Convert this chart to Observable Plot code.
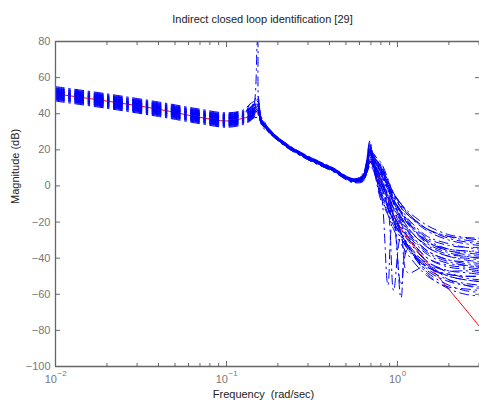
<!DOCTYPE html>
<html><head><meta charset="utf-8">
<script src="https://cdn.jsdelivr.net/npm/d3@7"></script>
<script src="https://cdn.jsdelivr.net/npm/@observablehq/plot@0.6"></script>
<style>
body{margin:0;background:#fff}
svg{display:block}
text{white-space:pre}
</style>
</head><body><div id="chart"></div>
<script>
// ---- data ----
const freq = [0.01, 0.02, 0.04, 0.07, 0.1, 0.125, 0.14, 0.152, 0.16, 0.18, 0.22, 0.3, 0.42, 0.55, 0.63, 0.69, 0.72, 0.8, 0.88, 0.95, 1.05, 1.15, 1.5, 2.0, 2.5, 3.05];
const trueMag = [51, 47, 42.5, 38, 36, 37.5, 39, 41, 35.5, 30, 23, 15.5, 9, 3.5, 5, 14, 12, 2, -7, -16, -23.5, -29, -43, -57.3, -68.3, -78.4];
const est01 = [54, 50, 45.5, 41.5, 39.5, 41, 43, 48, 37, 31, 23.5, 16.5, 10, 4, 6, 22, 16, 12, 2, -4, -10, -15, -24, -28, -29, -30];
const est02 = [48, 44, 39.5, 35.5, 33.5, 35, 38, 80, 34, 29, 22.5, 15, 8.5, 2.5, 4, 15, 12, 2, -6, -12, -20, -26, -37, -42, -44, -45];
const est03 = [52.5, 48.5, 44, 40, 38, 39.5, 42, 45, 36.5, 30.5, 23.5, 16, 9.5, 3.5, 7, 25, 18, 13, 4, -5, -12, -18, -28, -32, -34, -35];
const est04 = [49.5, 45.5, 41, 37, 35, 36.5, 38.5, 42, 35.5, 29.5, 22.5, 15, 8.5, 2.5, 3, 14, 12, -4, -12, -20, -27, -33, -45, -49, -50, -50];
const est05 = [53.5, 49.5, 45, 41, 39, 40.5, 44, 46, 37, 30.5, 23.5, 16, 9.5, 3.5, 5, 19, 15, 8, 0, -8, -15, -21, -31, -36, -37, -38];
const est06 = [48.5, 44.5, 40, 36, 34, 35.5, 37.5, 41, 35, 29.5, 22.5, 15, 8.5, 2.5, 4.5, 17, 13, 0, -12, -58, -28, -34, -46, -52, -54, -55];
const est07 = [51.5, 47.5, 43, 39, 37, 38.5, 40.5, 44, 36, 30, 23, 15.5, 9, 3, 5.5, 20, 15, 9, 0, -9, -17, -23, -34, -39, -41, -42];
const est08 = [50.5, 46.5, 42, 38, 36, 37.5, 39.5, 43, 35.5, 30, 23, 15.5, 9, 3, 4.5, 16, 13, 3, -6, -14, -22, -28, -40, -45, -46, -47];
const est09 = [55, 51, 46.5, 42.5, 40.5, 42, 46, 47, 37.5, 31, 24, 16.5, 10, 4, 6, 21, 17, 11, 3, -4, -11, -16, -25, -30, -32, -33];
const est10 = [47, 43, 38.5, 34.5, 32.5, 34, 36.5, 40, 34.5, 29, 22, 14.5, 8, 2, 2.5, 13, 10, -8, -16, -24, -32, -38, -50, -56, -57, -58];
const est11 = [52, 48, 43.5, 39.5, 37.5, 39, 41, 45, 36, 30, 23, 15.5, 9, 3, 4, 12, 18, 10, 1, -7, -15, -21, -32, -37, -39, -40];
const est12 = [50, 46, 41.5, 37.5, 35.5, 37, 39, 42, 35.5, 30, 23, 15.5, 9, 3, 6.5, 23, 16, 10, 0, -10, -18, -25, -36, -41, -43, -44];
const est13 = [53, 49, 44.5, 40.5, 38.5, 40, 44, 50, 37, 30.5, 23.5, 16, 9.5, 3.5, 4, 15, 12, 0, -9, -16, -62, -30, -42, -48, -51, -52];
const est14 = [49, 45, 40.5, 36.5, 34.5, 36, 38, 41, 35, 29.5, 22.5, 15, 8.5, 2.5, 5, 19, 14, 6, -1, -8, -15, -20, -30, -35, -36, -36];
const est15 = [54.5, 50.5, 46, 42, 40, 41.5, 43.5, 46, 37, 31, 24, 16, 9.5, 3.5, 3.5, 12, 11, -6, -13, -20, -27, -33, -43, -47, -47, -48];
const est16 = [47.5, 43.5, 39, 35, 33, 34.5, 37, 40, 34.5, 29, 22, 14.5, 8, 2, 5, 20, 15, 7, 0, -6, -12, -16, -24, -28, -30, -31];
const est17 = [51, 47, 42.5, 38.5, 36.5, 38, 40, 44, 36, 30, 23, 15.5, 9, 3, 6, 24, 17, 11, 2, -7, -14, -20, -31, -36, -38, -39];
const est18 = [52.5, 48.5, 44, 40, 38, 39.5, 41.5, 43, 36, 30, 23, 15.5, 9, 3, 3.5, 14, 11, -3, -12, -20, -28, -35, -47, -53, -55, -56];
const est19 = [49.5, 45.5, 41, 37, 35, 36.5, 39, 45, 35.5, 30, 23, 15.5, 9, 3, 5, 18, 14, 5, -2, -8, -14, -19, -29, -33, -34, -34];
const est20 = [51.5, 47.5, 43, 39, 37, 38.5, 40.5, 42, 36, 30, 23, 15.5, 9, 3, 5.5, 21, 14, 4, -6, -16, -25, -33, -49, -57, -60, -61];
const est21 = [48.5, 44.5, 40, 36, 34, 35.5, 38, 43, 35, 29.5, 22.5, 15, 8.5, 2.5, 4, 16, 12, -2, -55, -18, -23, -28, -40, -44, -45, -46];
const est22 = [53.5, 49.5, 45, 41, 39, 40.5, 42.5, 44, 36.5, 30.5, 23.5, 16, 9.5, 3.5, 4.5, 17, 14, 4, -4, -12, -19, -25, -36, -41, -42, -43];
const est23 = [50.5, 46.5, 42, 38, 36, 37.5, 40, 46, 36, 30, 23, 15.5, 9, 3, 6, 22, 16, 9, 1, -8, -14, -20, -31, -35, -36, -37];
const est24 = [52, 48, 43.5, 39.5, 37.5, 39, 41, 41, 35.5, 30, 23, 15.5, 9, 3, 3, 13, 11, -5, -12, -19, -26, -32, -44, -50, -52, -53];
const est25 = [51.5, 47.5, 43, 39, 37, 39, 46, 42, 36, 30, 23, 15.5, 9, 3, 5, 18, 15, 8, 0, -5, -10, -14, -22, -27, -28.5, -29];
const est26 = [49, 45, 40.5, 36.5, 34.5, 36, 37.5, 38, 38, 30, 22.5, 15, 8.5, 2.5, 4, 11, 9, -6, -15, -22, -29, -35, -45, -49, -50, -50];
const est27 = [54, 50, 45.5, 41.5, 39.5, 41, 43, 47, 37, 31, 23.5, 16, 9.5, 3.5, 5.5, 20, 16, 8, -1, -9, -17, -23, -34, -39, -40, -41];
const est28 = [48, 44, 39.5, 35.5, 33.5, 35, 37, 43, 35, 29.5, 22.5, 15, 8.5, 2.5, 3.5, 13, 17, 3, -8, -17, -26, -33, -45, -50, -52, -53];
const est29 = [52, 48, 43.5, 39.5, 37.5, 39, 44, 45, 36, 30, 23, 15.5, 9, 3, 5, 19, 14, 4, -5, -13, -21, -27, -38, -43, -44, -45];
const est30 = [50, 46, 41.5, 37.5, 35.5, 37, 39, 42, 35.5, 30, 23, 15.5, 9, 3, 4, 15, 12, 0, -10, -18, -26, -48, -44, -52, -55, -57];
const est31 = [53, 49, 44.5, 40.5, 38.5, 40, 42, 44, 36.5, 30.5, 23.5, 16, 9.5, 3.5, 6, 22, 17, 10, 2, -4, -10, -15, -24, -29, -31, -32];
const est32 = [50.5, 46.5, 42, 38, 36, 37.5, 40, 47, 35.5, 30, 23, 15.5, 9, 3, 4.5, 17, 13, 2, -8, -16, -24, -30, -42, -47, -48, -49];
const est33 = [52.5, 48.5, 44, 40, 38, 39.5, 41.5, 41, 36, 30, 23, 15.5, 9, 3, 5.5, 20, 15, 7, -2, -10, -18, -24, -33, -38, -39, -40];
const est34 = [49.5, 45.5, 41, 37, 35, 36.5, 38.5, 44, 35.5, 29.5, 22.5, 15, 8.5, 2.5, 3, 14, 11, -2, -11, -19, -55, -35, -48, -55, -58, -59];
const estimates = [est01, est02, est03, est04, est05, est06, est07, est08, est09, est10, est11, est12,
                   est13, est14, est15, est16, est17, est18, est19, est20, est21, est22, est23, est24,
                   est25, est26, est27, est28, est29, est30, est31, est32, est33, est34];

const yTicks = [-100, -80, -60, -40, -20, 0, 20, 40, 60, 80];
const xMajorTicks = [0.01, 0.1, 1];
const xTickBase = ["10", "10", "10"];
const xTickExp = ["\u22122", "\u22121", "0"];
const xMinorTicks = [0.02, 0.03, 0.04, 0.05, 0.06, 0.07, 0.08, 0.09, 0.2, 0.3, 0.4, 0.5, 0.6, 0.7, 0.8, 0.9, 2, 3];
const titleText = "Indirect closed loop identification [29]";
const xLabelText = "Frequency  (rad/sec)";
const yLabelText = "Magnitude (dB)";

// ---- tables for the library ----
const trueRows = freq.map((f, i) => ({f, m: trueMag[i]}));
const estRows = estimates.flatMap((s, k) => s.map((m, i) => ({f: freq[i], m, k})));

const axisColor = "#666";
const tickTextColor = "#777";

const expLabelMarks = xMajorTicks.flatMap((t, i) => {
  const expW = xTickExp[i].length * 4.6;
  const baseW = 12.2;
  const off = (baseW - expW) / 2;
  return [
    Plot.text([t], {x: d => d, text: () => xTickBase[i], frameAnchor: "bottom", dy: 16, dx: off, textAnchor: "end", fontSize: 11, fill: tickTextColor}),
    Plot.text([t], {x: d => d, text: () => xTickExp[i], frameAnchor: "bottom", dy: 9, dx: off + 0.5, textAnchor: "start", fontSize: 8, fill: tickTextColor})
  ];
});

const chart = Plot.plot({
  width: 479,
  height: 403,
  marginLeft: 55,
  marginRight: 0,
  marginTop: 41,
  marginBottom: 37,
  style: {fontFamily: "'Liberation Sans', Arial, Helvetica, sans-serif", fontSize: "11px", background: "#fff"},
  x: {type: "log", domain: [0.01, 3.02]},
  y: {domain: [-100, 80]},
  marks: [
    Plot.line(trueRows, {x: "f", y: "m", stroke: "#ff0000", strokeWidth: 1, curve: "catmull-rom", clip: true}),
    Plot.line(estRows, {x: "f", y: "m", z: "k", stroke: "#0000ff", strokeWidth: 1, strokeDasharray: "9,4.5,1.5,4.5", curve: "catmull-rom", clip: true}),
    // axis lines (box, right edge clipped off)
    Plot.ruleX([0.01], {stroke: axisColor, strokeWidth: 1.3}),
    Plot.ruleY([80, -100], {stroke: axisColor, strokeWidth: 1.3}),
    // ticks
    Plot.axisY(yTicks, {anchor: "left", tickSize: 0, tickPadding: 5, label: null, fill: tickTextColor, fontSize: 11}),
    Plot.axisY(yTicks, {anchor: "left", tickSize: -5, tickFormat: () => "", label: null, stroke: axisColor}),
    Plot.axisY(yTicks, {anchor: "right", tickSize: -5, tickFormat: () => "", label: null, stroke: axisColor}),
    Plot.axisX(xMajorTicks, {anchor: "bottom", tickSize: -5, tickFormat: () => "", label: null, stroke: axisColor}),
    Plot.axisX(xMinorTicks, {anchor: "bottom", tickSize: -3, tickFormat: () => "", label: null, stroke: axisColor}),
    Plot.axisX(xMajorTicks, {anchor: "top", tickSize: -5, tickFormat: () => "", label: null, stroke: axisColor}),
    Plot.axisX(xMinorTicks, {anchor: "top", tickSize: -3, tickFormat: () => "", label: null, stroke: axisColor}),
    ...expLabelMarks,
    // title and axis labels
    Plot.text([titleText], {text: d => d, frameAnchor: "top", dy: -26, dx: -5, fontSize: 11, fill: "#222"}),
    Plot.text([xLabelText], {text: d => d, frameAnchor: "bottom", dy: 31, dx: -4, fontSize: 11, fill: "#222"}),
    Plot.text([yLabelText], {text: d => d, frameAnchor: "left", dx: -40, rotate: -90, fontSize: 11, fill: "#222"})
  ]
});
document.getElementById("chart").appendChild(chart);
</script>
</body></html>
